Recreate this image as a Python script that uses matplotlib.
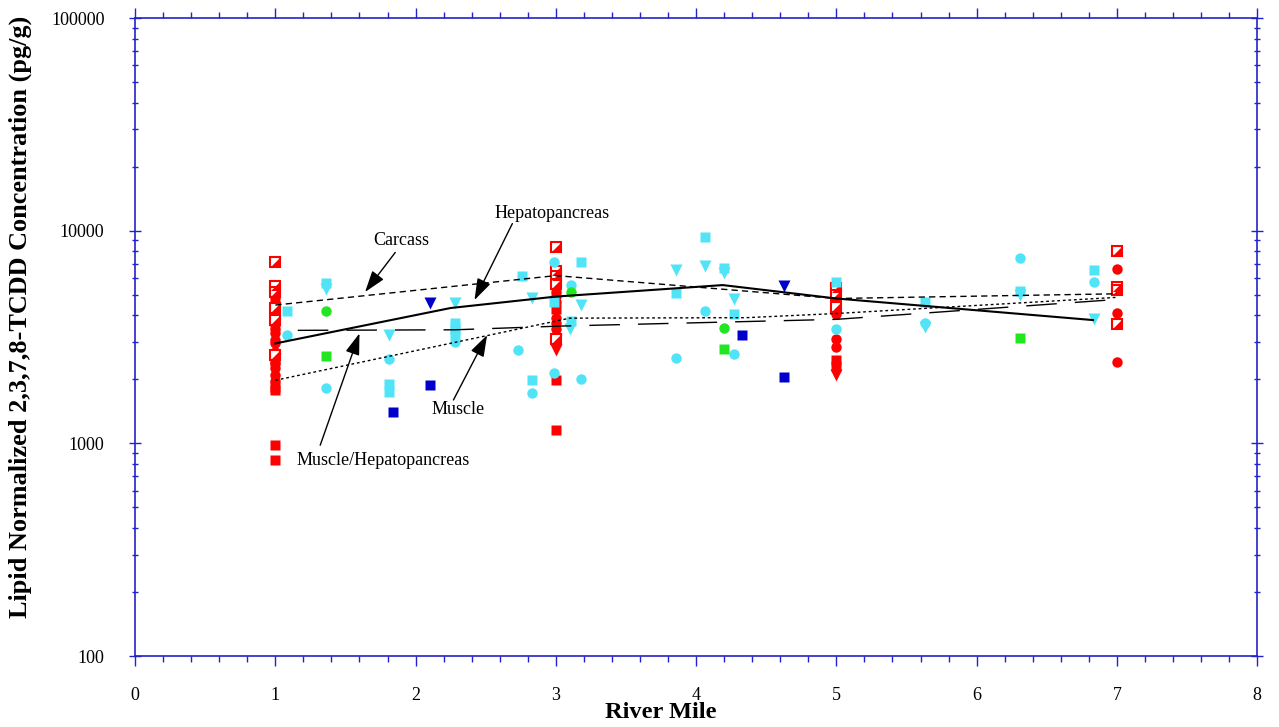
import matplotlib
matplotlib.use("Agg")
import matplotlib.pyplot as plt
import matplotlib.ticker as ticker
import numpy as np

plt.rcParams["font.family"] = ["Liberation Serif", "DejaVu Serif"]

# sample concentrations (pg/g lipid) by river mile
red_circle_x = [1] * 14 + [3] * 10 + [5] * 6 + [7] * 3
red_circle_y = [4620, 4150, 3600, 3300, 2960, 2410, 2250, 2100, 1960, 4800, 3450, 3050, 2700, 2350,
                5860, 5400, 4950, 5150, 3700, 3450, 3200, 2950, 3900, 4600,
                4880, 4620, 4330, 4050, 3100, 2850,
                6600, 4090, 2410]
red_square_x = [1, 1, 1, 1, 3, 3, 3, 5, 5]
red_square_y = [1850, 1780, 980, 835, 4270, 1990, 1160, 2470, 2310]
red_tri_x = [1, 3, 3, 5]
red_tri_y = [2500, 2750, 3050, 2100]
red_half_x = [1, 1, 1, 1, 1, 1, 3, 3, 3, 3, 3, 5, 5, 5, 7, 7, 7, 7]
red_half_y = [7100, 5500, 5150, 4330, 3800, 2600, 8350, 6490, 6150, 5600, 3100, 5400, 5000, 4400,
              8050, 5450, 5250, 3630]

cyan_circle_x = [1.08, 1.36, 1.81, 2.28, 2.73, 2.83, 2.99, 2.99, 3.11, 3.18, 3.86, 4.06, 4.27,
                 5.0, 5.63, 6.31, 6.84]
cyan_circle_y = [3250, 1820, 2490, 3000, 2750, 1730, 7100, 2150, 5560, 2000, 2520, 4190, 2630,
                 3440, 3680, 7470, 5720]
cyan_square_x = [1.08, 1.36, 1.81, 1.81, 2.28, 2.28, 2.28, 2.76, 2.83, 2.99, 3.11, 3.18, 3.86,
                 4.06, 4.20, 4.27, 5.0, 5.63, 6.31, 6.84]
cyan_square_y = [4170, 5680, 1900, 1750, 3700, 3450, 3250, 6100, 1990, 4600, 3780, 7100, 5110,
                 9370, 6700, 4040, 5760, 4620, 5210, 6530]
cyan_tri_x = [1.36, 1.81, 2.28, 2.83, 3.10, 3.18, 3.86, 4.06, 4.20, 4.27, 5.63, 6.31, 6.84]
cyan_tri_y = [5300, 3230, 4550, 4810, 3460, 4490, 6530, 6850, 6300, 4760, 3530, 5000, 3830]

green_circle_x = [1.36, 3.11, 4.20]
green_circle_y = [4170, 5130, 3480]
green_square_x = [1.36, 4.20, 6.31]
green_square_y = [2580, 2790, 3120]

blue_square_x = [1.84, 2.10, 4.33, 4.63]
blue_square_y = [1410, 1880, 3250, 2060]
blue_tri_x = [2.10, 4.63]
blue_tri_y = [4550, 5500]

# trend lines by tissue
hepato_x = [1, 2.25, 3.0, 4.19, 5.0, 6.83]
hepato_y = [2950, 4330, 4900, 5550, 4800, 3800]
carcass_x = [1, 3, 5, 7]
carcass_y = [4470, 6150, 4800, 5050]
muscle_x = [1, 3.1, 4.36, 5, 7]
muscle_y = [1980, 3880, 3900, 4080, 4860]
mushep_x = [1.16, 2.28, 3.03, 5, 7]
mushep_y = [3400, 3420, 3560, 3830, 4750]

RED = "#ff0000"
CYAN = "#50e4f6"
GREEN = "#22e622"
BLUE = "#0000cc"
AXC = "#2222cc"

fig = plt.figure(figsize=(12.79, 7.27), dpi=100)
ax = fig.add_axes([0.1056, 0.0976, 0.8773, 0.8776])

ms = 7.5
ax.plot(red_circle_x, red_circle_y, "o", color=RED, ms=ms, mec="none")
ax.plot(red_square_x, red_square_y, "s", color=RED, ms=ms - 0.5, mec="none")
ax.plot(red_tri_x, red_tri_y, "v", color=RED, ms=ms + 0.5, mec="none")
ax.plot(red_half_x, red_half_y, "s", mfc="white", mec=RED, mew=1.5, ms=ms - 1, ls="none")
half = [(1, -1), (1, 1), (-1, -1)]
ax.plot(red_half_x, red_half_y, marker=half, color=RED, ms=ms - 1, mec="none", ls="none")

ax.plot(cyan_circle_x, cyan_circle_y, "o", color=CYAN, ms=ms, mec="none")
ax.plot(cyan_square_x, cyan_square_y, "s", color=CYAN, ms=ms - 0.5, mec="none")
ax.plot(cyan_tri_x, cyan_tri_y, "v", color=CYAN, ms=ms + 0.5, mec="none")
ax.plot(green_circle_x, green_circle_y, "o", color=GREEN, ms=ms, mec="none")
ax.plot(green_square_x, green_square_y, "s", color=GREEN, ms=ms - 0.5, mec="none")
ax.plot(blue_square_x, blue_square_y, "s", color=BLUE, ms=ms - 0.5, mec="none")
ax.plot(blue_tri_x, blue_tri_y, "v", color=BLUE, ms=ms + 0.5, mec="none")

ax.plot(hepato_x, hepato_y, color="black", lw=1.5, zorder=5)
ax.plot(carcass_x, carcass_y, color="black", lw=1.0, dashes=(4.5, 3), zorder=5)
ax.plot(muscle_x, muscle_y, color="black", lw=1.0, dashes=(2, 2), zorder=5)
ax.plot(mushep_x, mushep_y, color="black", lw=1.0, dashes=(22, 13), zorder=5)

arrow = dict(arrowstyle="-|>,head_length=0.6,head_width=0.2", color="black", lw=1,
             mutation_scale=22, shrinkA=0, shrinkB=0)
ax.annotate("", xy=(1.64, 5150), xytext=(1.855, 7900), arrowprops=arrow, zorder=6)
ax.text(1.90, 9040, "Carcass", ha="center", va="center", fontsize=13)
ax.annotate("", xy=(2.42, 4720), xytext=(2.69, 10800), arrowprops=arrow, zorder=6)
ax.text(2.97, 11990, "Hepatopancreas", ha="center", va="center", fontsize=13)
ax.annotate("", xy=(2.51, 3230), xytext=(2.27, 1600), arrowprops=arrow, zorder=6)
ax.text(2.30, 1440, "Muscle", ha="center", va="center", fontsize=13)
ax.annotate("", xy=(1.60, 3290), xytext=(1.32, 980), arrowprops=arrow, zorder=6)
ax.text(1.15, 835, "Muscle/Hepatopancreas", ha="left", va="center", fontsize=13)

ax.set_yscale("log")
ax.set_xlim(0, 8)
ax.set_ylim(100, 100000)
ax.xaxis.set_major_locator(ticker.MultipleLocator(1))
ax.xaxis.set_minor_locator(ticker.MultipleLocator(0.2))
ax.yaxis.set_major_locator(ticker.LogLocator(base=10))
ax.yaxis.set_minor_locator(ticker.LogLocator(base=10, subs=np.arange(2, 10)))
ax.yaxis.set_major_formatter(ticker.FuncFormatter(lambda v, p: f"{v:.0f}"))
ax.yaxis.set_minor_formatter(ticker.NullFormatter())

for s in ax.spines.values():
    s.set_color(AXC)
    s.set_linewidth(1.2)
ax.tick_params(axis="x", which="major", direction="out", length=7, width=1, color=AXC,
               top=True, labelsize=13, pad=15)
ax.tick_params(axis="x", which="minor", direction="out", length=4, width=1, color=AXC, top=True)
ax.tick_params(axis="y", which="major", direction="inout", length=8, width=1, color=AXC,
               right=True, labelsize=13, pad=18)
ax.tick_params(axis="y", which="minor", direction="inout", length=5, width=1, color=AXC,
               right=True)

fig.text(661 / 1279, 1 - 713 / 727, "River Mile", fontsize=17.6, fontweight="bold",
         ha="center", va="center")
fig.text(20 / 1279, 1 - 317 / 727, "Lipid Normalized 2,3,7,8-TCDD Concentration (pg/g)",
         fontsize=18.9, fontweight="bold", rotation=90, ha="center", va="center")

fig.savefig("out.png", dpi=100)
